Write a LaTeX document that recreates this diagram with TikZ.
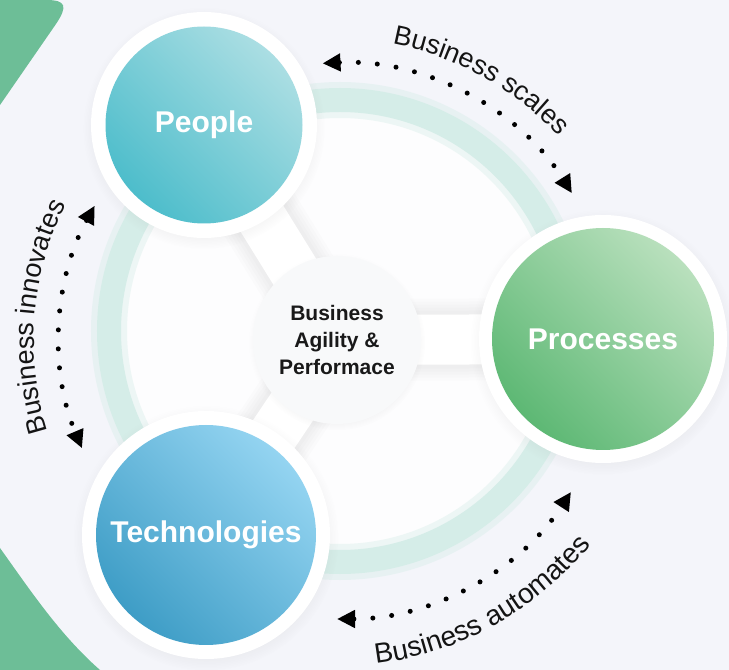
\documentclass[tikz,border=0pt]{standalone}
\usepackage{fontspec}
\setmainfont{Liberation Sans}
\usetikzlibrary{arrows.meta,shadows,decorations.text}
\definecolor{bg}{HTML}{F4F5FA}
\definecolor{blob}{HTML}{6DBE97}
\definecolor{ringc}{HTML}{D5EDE8}
\definecolor{inner}{HTML}{FDFDFE}
\definecolor{corefill}{HTML}{F8F9FA}
\definecolor{pplD}{HTML}{4DBDCB}
\definecolor{pplL}{HTML}{ABDEE3}
\definecolor{prcD}{HTML}{5DB874}
\definecolor{prcL}{HTML}{B9E0BD}
\definecolor{tecD}{HTML}{3E9DC6}
\definecolor{tecL}{HTML}{94D4F1}
\newcommand\arcfont{\fontsize{27}{27}\selectfont}
\newcommand\arcfontb{\fontsize{28}{28}\selectfont}
\begin{document}
\begin{tikzpicture}[x=1pt,y=1pt,
  halo/.style={circle, fill=white, inner sep=0pt,
    circular drop shadow={shadow xshift=0pt, shadow yshift=-3pt, shadow scale=1.07, opacity=0.10}},
  ball/.style={circle, inner sep=0pt, text=white, font=\bfseries\fontsize{30}{30}\selectfont},
  link/.style={line width=50pt, draw=white},
  linkshade/.style={draw=black, draw opacity=0.012},
  dotarc/.style={line width=5pt, line cap=round, dash pattern=on 0pt off 19pt,
    {Triangle[length=18pt,width=17pt]}-{Triangle[length=18pt,width=17pt]}},
  arctext/.style={decorate, decoration={text along path, text align=center, text color=black!92}}
]
\useasboundingbox (0,0) rectangle (729,670);
\fill[bg] (0,0) rectangle (729,670);
% green blobs
\fill[blob] (0,565) -- (56,646) .. controls (68,664) and (66,670) .. (46,670) -- (0,670) -- cycle;
\fill[blob] (0,122) .. controls (30,80) and (60,35) .. (100,0) -- (0,0) -- cycle;
% centres
\coordinate (O) at (340,339);
\coordinate (A) at (337,330);
\coordinate (pC) at (204,545);
\coordinate (rC) at (603,331);
\coordinate (tC) at (206,135);
% ring
\fill[inner] (O) circle (222);
\draw[ringc, opacity=0.4, line width=36pt] (O) circle (231);
\draw[ringc, line width=24pt] (O) circle (231);
% connectors with soft edges
\foreach \w in {82,76,70,64,58}{
  \foreach \c in {pC,rC,tC}{
    \draw[linkshade, line width=\w pt] (A) -- (\c);
  }
}
\foreach \c in {pC,rC,tC}{
  \draw[link] (A) -- (\c);
}
% central node
\node[circle, fill=corefill, minimum size=168pt, inner sep=0pt,
  circular drop shadow={shadow xshift=0pt, shadow yshift=-2pt, shadow scale=1.05, opacity=0.10},
  align=center, text=black!90, font=\bfseries\fontsize{21}{27}\selectfont] (core) at (A)
  {Business\\Agility \&\\Performace};
% halos
\node[halo, minimum size=226pt] (peopleH) at (pC) {};
\node[halo, minimum size=248pt] (procH) at (rC) {};
\node[halo, minimum size=248pt] (techH) at (tC) {};
% balls
\node[ball, minimum size=197pt, bottom color=pplD, top color=pplL, shading angle=-45] (people) at (pC) {People};
\node[ball, minimum size=222pt, bottom color=prcD, top color=prcL, shading angle=-45] (proc) at (rC) {Processes};
\node[ball, minimum size=220pt, bottom color=tecD, top color=tecL, shading angle=-45] (tech) at (tC) {Technologies};
% dotted arcs
\draw[dotarc] (A) ++(93:277) arc[start angle=93, end angle=32, radius=277];
\draw[dotarc] (A) ++(151:277) arc[start angle=151, end angle=203, radius=277];
\draw[dotarc] (A) ++(-90:279) arc[start angle=-90, end angle=-33, radius=279];
% arc texts
\path[arctext, decoration={text={|\arcfont|Business scales}}] (A) ++(100:301) arc[start angle=100, end angle=22, radius=301];
\path[arctext, decoration={text={|\arcfont|Business innovates}}] (A) ++(215:303) arc[start angle=215, end angle=136, radius=303];
\path[arctext, decoration={text={|\arcfontb|Business automates}}] (A) ++(-100:326) arc[start angle=-100, end angle=-22, radius=326];
\end{tikzpicture}
\end{document}
